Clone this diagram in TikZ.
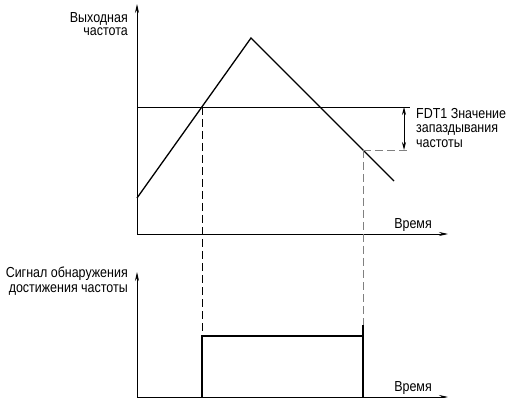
\documentclass[tikz,border=0pt]{standalone}
\usepackage{fontspec}
\setmainfont{Liberation Sans}[FakeStretch=0.86]
\usetikzlibrary{arrows.meta}
\begin{document}
\begin{tikzpicture}[x=1pt,y=-1pt,
  axis/.style={line width=0.8pt,-{Stealth[length=9pt,width=4pt]}},
  curve/.style={line width=1.3pt},
  guide/.style={line width=0.9pt,gray,dash pattern=on 8pt off 4pt},
  lab/.style={font=\fontsize{14.5}{12.5}\selectfont,inner sep=0pt},
  thin/.style={line width=0.8pt}]
\useasboundingbox (0,0) rectangle (506,398);
% top plot
\coordinate (o1) at (137,234);
\coordinate (y1) at (137,4);
\coordinate (x1) at (448,234);
\draw[axis] (o1) -- (y1);
\draw[axis] (o1) -- (x1);
\node[lab,font=\fontsize{14.5}{13}\selectfont,anchor=north east,align=right] (ylab1) at (128,12.5) {Выходная\\частота};
\node[lab,anchor=base east] (xlab1) at (432,229) {Время};
\coordinate (lvl0) at (137,107);
\coordinate (lvl1) at (410,107);
\draw[thin] (lvl0) -- (lvl1);
\coordinate (s) at (137,198);
\coordinate (pk) at (251,38);
\coordinate (e) at (394,181);
\coordinate (a) at (202,107);
\coordinate (b) at (363,150);
\draw[curve] (s) -- (pk) -- (e);
\coordinate (bh) at (409,150);
\draw[guide] (b) -- (bh);
% double arrow
\coordinate (da1) at (404,107);
\coordinate (da2) at (404,150);
\draw[line width=0.8pt,{Stealth[length=8pt,width=4pt]}-{Stealth[length=8pt,width=4pt]}] (da1) -- (da2);
\node[lab,font=\fontsize{14.5}{14.5}\selectfont,anchor=north west,align=left] (fdt) at (416,108) {FDT1 Значение\\запаздывания\\частоты};
% bottom plot
\coordinate (o2) at (137,397);
\coordinate (y2) at (137,272);
\coordinate (x2) at (448,397);
\draw[axis] (o2) -- (y2);
\draw[axis] (o2) -- (x2);
\node[lab,font=\fontsize{14.5}{15}\selectfont,anchor=north east,align=right] (ylab2) at (128,267) {Сигнал обнаружения\\достижения частоты};
\node[lab,anchor=base east] (xlab2) at (432,391) {Время};
\coordinate (p1) at (202,397);
\coordinate (p2) at (202,336);
\coordinate (p3) at (363,336);
\coordinate (p4) at (363,397);
\coordinate (p5) at (363,325);
\draw[curve] (p1) -- (p2) -- (p3);
\draw[curve] (p5) -- (p4);
\draw[guide,black] (a) -- (p2);
\draw[guide] (b) -- (p5);
\end{tikzpicture}
\end{document}
